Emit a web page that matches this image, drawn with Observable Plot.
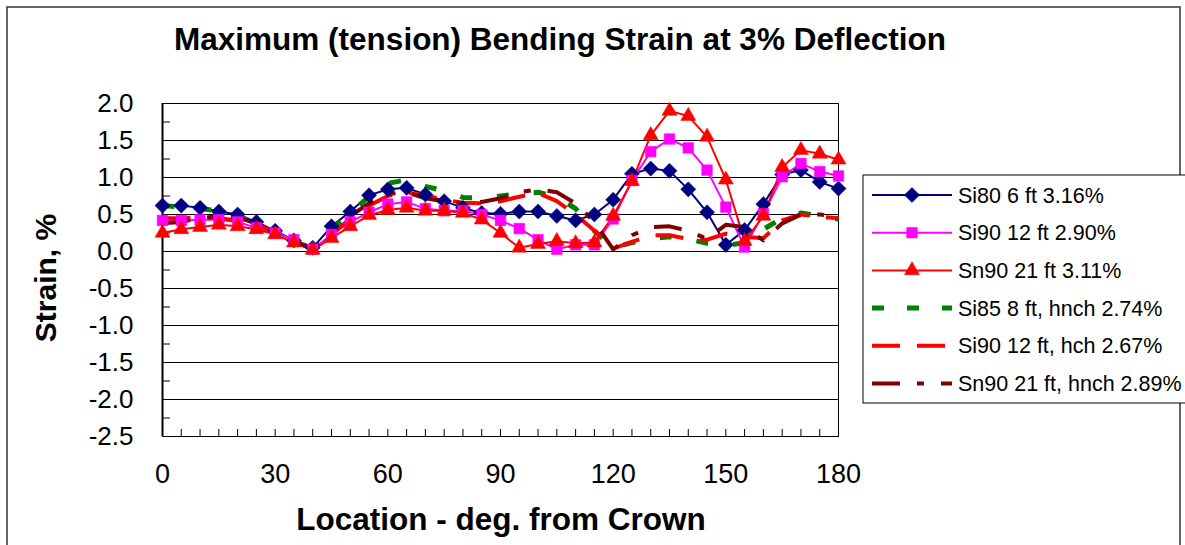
<!DOCTYPE html>
<html><head><meta charset="utf-8">
<script src="https://cdn.jsdelivr.net/npm/d3@7"></script>
<script src="https://cdn.jsdelivr.net/npm/@observablehq/plot@0.6"></script>
<style>body{margin:0;background:#fff} svg{display:block;overflow:visible}</style>
</head><body><div id="chart"></div>
<script>
// Location, degrees from crown
const deg = [0,5,10,15,20,25,30,35,40,45,50,55,60,65,70,75,80,85,90,95,100,105,110,115,120,125,130,135,140,145,150,155,160,165,170,175,180];
// Strain, %
const si80  = [0.62,0.62,0.59,0.54,0.50,0.40,0.28,0.15,0.05,0.34,0.54,0.76,0.84,0.86,0.77,0.68,0.59,0.52,0.51,0.54,0.54,0.48,0.42,0.50,0.70,1.05,1.12,1.09,0.84,0.53,0.09,0.29,0.64,1.04,1.10,0.94,0.85];
const si90  = [0.42,0.42,0.43,0.43,0.40,0.32,0.25,0.16,0.03,0.23,0.40,0.53,0.64,0.67,0.58,0.55,0.55,0.50,0.42,0.31,0.16,0.03,0.09,0.09,0.44,0.96,1.35,1.52,1.40,1.10,0.60,0.06,0.51,1.01,1.19,1.08,1.02];
const sn90  = [0.25,0.30,0.33,0.36,0.34,0.30,0.23,0.12,0.02,0.18,0.34,0.49,0.56,0.59,0.55,0.55,0.52,0.43,0.25,0.05,0.10,0.14,0.11,0.12,0.48,0.95,1.57,1.90,1.83,1.55,0.97,0.14,0.48,1.14,1.37,1.32,1.24];
const si85h = [0.62,0.60,0.58,0.55,0.48,0.38,0.27,0.14,0.04,0.30,0.52,0.74,0.92,0.97,0.88,0.82,0.73,0.72,0.75,0.78,0.80,0.74,0.58,0.28,0.05,0.12,0.17,0.20,0.17,0.11,0.08,0.12,0.30,0.45,0.52,0.48,0.44];
const si90h = [0.45,0.45,0.46,0.45,0.42,0.36,0.27,0.15,0.03,0.22,0.45,0.62,0.75,0.80,0.76,0.70,0.66,0.65,0.68,0.74,0.79,0.68,0.50,0.28,0.04,0.13,0.22,0.22,0.17,0.16,0.24,0.20,0.18,0.42,0.50,0.47,0.45];
const sn90h = [0.38,0.40,0.45,0.48,0.46,0.38,0.27,0.15,0.03,0.25,0.48,0.65,0.78,0.80,0.72,0.68,0.65,0.67,0.72,0.80,0.84,0.80,0.65,0.40,0.03,0.22,0.33,0.34,0.28,0.17,0.36,0.33,0.15,0.38,0.50,0.50,0.47];

const names = ["Si80 6 ft 3.16%","Si90 12 ft 2.90%","Sn90 21 ft 3.11%","Si85 8 ft, hnch 2.74%","Si90 12 ft, hch 2.67%","Sn90 21 ft, hnch 2.89%"];
const xTicks = [0,30,60,90,120,150,180];
const xMinor = [0,5,10,15,20,25,30,35,40,45,50,55,60,65,70,75,80,85,90,95,100,105,110,115,120,125,130,135,140,145,150,155,160,165,170,175,180];
const yTicks = [-2.5,-2.0,-1.5,-1.0,-0.5,0.0,0.5,1.0,1.5,2.0];
const yMinor = [-2.25,-1.75,-1.25,-0.75,-0.25,0.25,0.75,1.25,1.75];

const series = [
  {name: names[0], values: si80,  color: "#000080", width: 2, dash: null, symbol: "diamond2", r: 6.8},
  {name: names[1], values: si90,  color: "#FF00FF", width: 2, dash: null, symbol: "square", r: 6.0},
  {name: names[2], values: sn90,  color: "#FF0000", width: 2, dash: null, symbol: "triangle", r: 5.6},
  {name: names[3], values: si85h, color: "#008000", width: 5, dash: "12,25", symbol: null},
  {name: names[4], values: si90h, color: "#FF0000", width: 4, dash: "28,17", symbol: null},
  {name: names[5], values: sn90h, color: "#800000", width: 4, dash: "28,17,7,17", symbol: null}
];

const font = "'Liberation Sans', Arial, Helvetica, sans-serif";
const W = 1185, H = 545;
const mL = 162, mR = W - 838, mT = 103, mB = H - 436;

const marks = [
  Plot.ruleY(yTicks, {y: d => d, stroke: "#000", strokeWidth: 1}),
  Plot.tickY(yMinor, {y: d => d, insetRight: (838 - 162) - 8, stroke: "#000", strokeWidth: 1}),
  Plot.tickX(xMinor, {x: d => d, insetTop: (436 - 103) - 7, stroke: "#000", strokeWidth: 1}),
  Plot.frame({stroke: "#000", strokeWidth: 1}),
  Plot.ruleX([0], {x: d => d, stroke: "#000", strokeWidth: 2})
];
for (const s of series.filter(s => !s.dash)) {
  marks.push(Plot.line(deg, {x: d => d, y: (d, i) => s.values[i], stroke: s.color, strokeWidth: s.width}));
}
for (const s of series.filter(s => s.dash)) {
  marks.push(Plot.line(deg, {x: d => d, y: (d, i) => s.values[i], stroke: s.color, strokeWidth: s.width, strokeDasharray: s.dash, strokeLinecap: "butt"}));
}
for (const s of series.filter(s => s.symbol)) {
  marks.push(Plot.dot(deg, {x: d => d, y: (d, i) => s.values[i], symbol: s.symbol, r: s.r, fill: s.color, stroke: s.color, strokeWidth: 0.5}));
}
marks.push(Plot.text(xTicks, {x: d => d, frameAnchor: "bottom", lineAnchor: "bottom", dy: 46, text: d => String(d), fontSize: 27, fill: "#000"}));
marks.push(Plot.text(yTicks, {y: d => d, frameAnchor: "left", textAnchor: "end", dx: -29, text: d => d.toFixed(1), fontSize: 26, fill: "#000"}));

const svg = Plot.plot({
  width: W, height: H,
  marginLeft: mL, marginRight: mR, marginTop: mT, marginBottom: mB,
  x: {domain: [0, 180], axis: null},
  y: {domain: [-2.5, 2.0], axis: null},
  style: {fontFamily: font, background: "#fff", color: "#000"},
  marks
});
document.getElementById("chart").appendChild(svg);

const g = d3.select(svg);
g.append("rect").attr("x", 7).attr("y", 7).attr("width", 1173).attr("height", 560)
  .attr("fill", "none").attr("stroke", "#333").attr("stroke-width", 1.5);
g.append("text").attr("x", 560).attr("y", 50).attr("text-anchor", "middle")
  .attr("font-family", font).attr("font-weight", "bold").attr("font-size", 31.5)
  .text("Maximum (tension) Bending Strain at 3% Deflection");
g.append("text").attr("x", 501).attr("y", 530).attr("text-anchor", "middle")
  .attr("font-family", font).attr("font-weight", "bold").attr("font-size", 31.5)
  .text("Location - deg. from Crown");
g.append("text").attr("transform", "translate(56,278) rotate(-90)").attr("text-anchor", "middle")
  .attr("font-family", font).attr("font-weight", "bold").attr("font-size", 30)
  .text("Strain, %");
const lg = g.append("g");
lg.append("rect").attr("x", 863).attr("y", 175).attr("width", 330).attr("height", 228)
  .attr("fill", "#fff").attr("stroke", "#000").attr("stroke-width", 1);
const symMap = {diamond2: d3.symbolDiamond2, square: d3.symbolSquare, triangle: d3.symbolTriangle};
series.forEach((s, i) => {
  const y = 195 + i * 37.7;
  lg.append("line").attr("x1", 872).attr("x2", 952).attr("y1", y).attr("y2", y)
    .attr("stroke", s.color).attr("stroke-width", s.width)
    .attr("stroke-dasharray", s.dash ? (s.dash === "12,25" ? "12,23" : s.dash) : null);
  if (s.symbol) {
    lg.append("path").attr("transform", `translate(912,${y})`)
      .attr("d", d3.symbol(symMap[s.symbol], Math.PI * s.r * s.r)())
      .attr("fill", s.color).attr("stroke", s.color).attr("stroke-width", 0.5);
  }
  lg.append("text").attr("x", 958).attr("y", y).attr("dy", "0.35em").attr("text-anchor", "start")
    .attr("font-family", font).attr("font-size", 21.5).text(s.name);
});
</script></body></html>
